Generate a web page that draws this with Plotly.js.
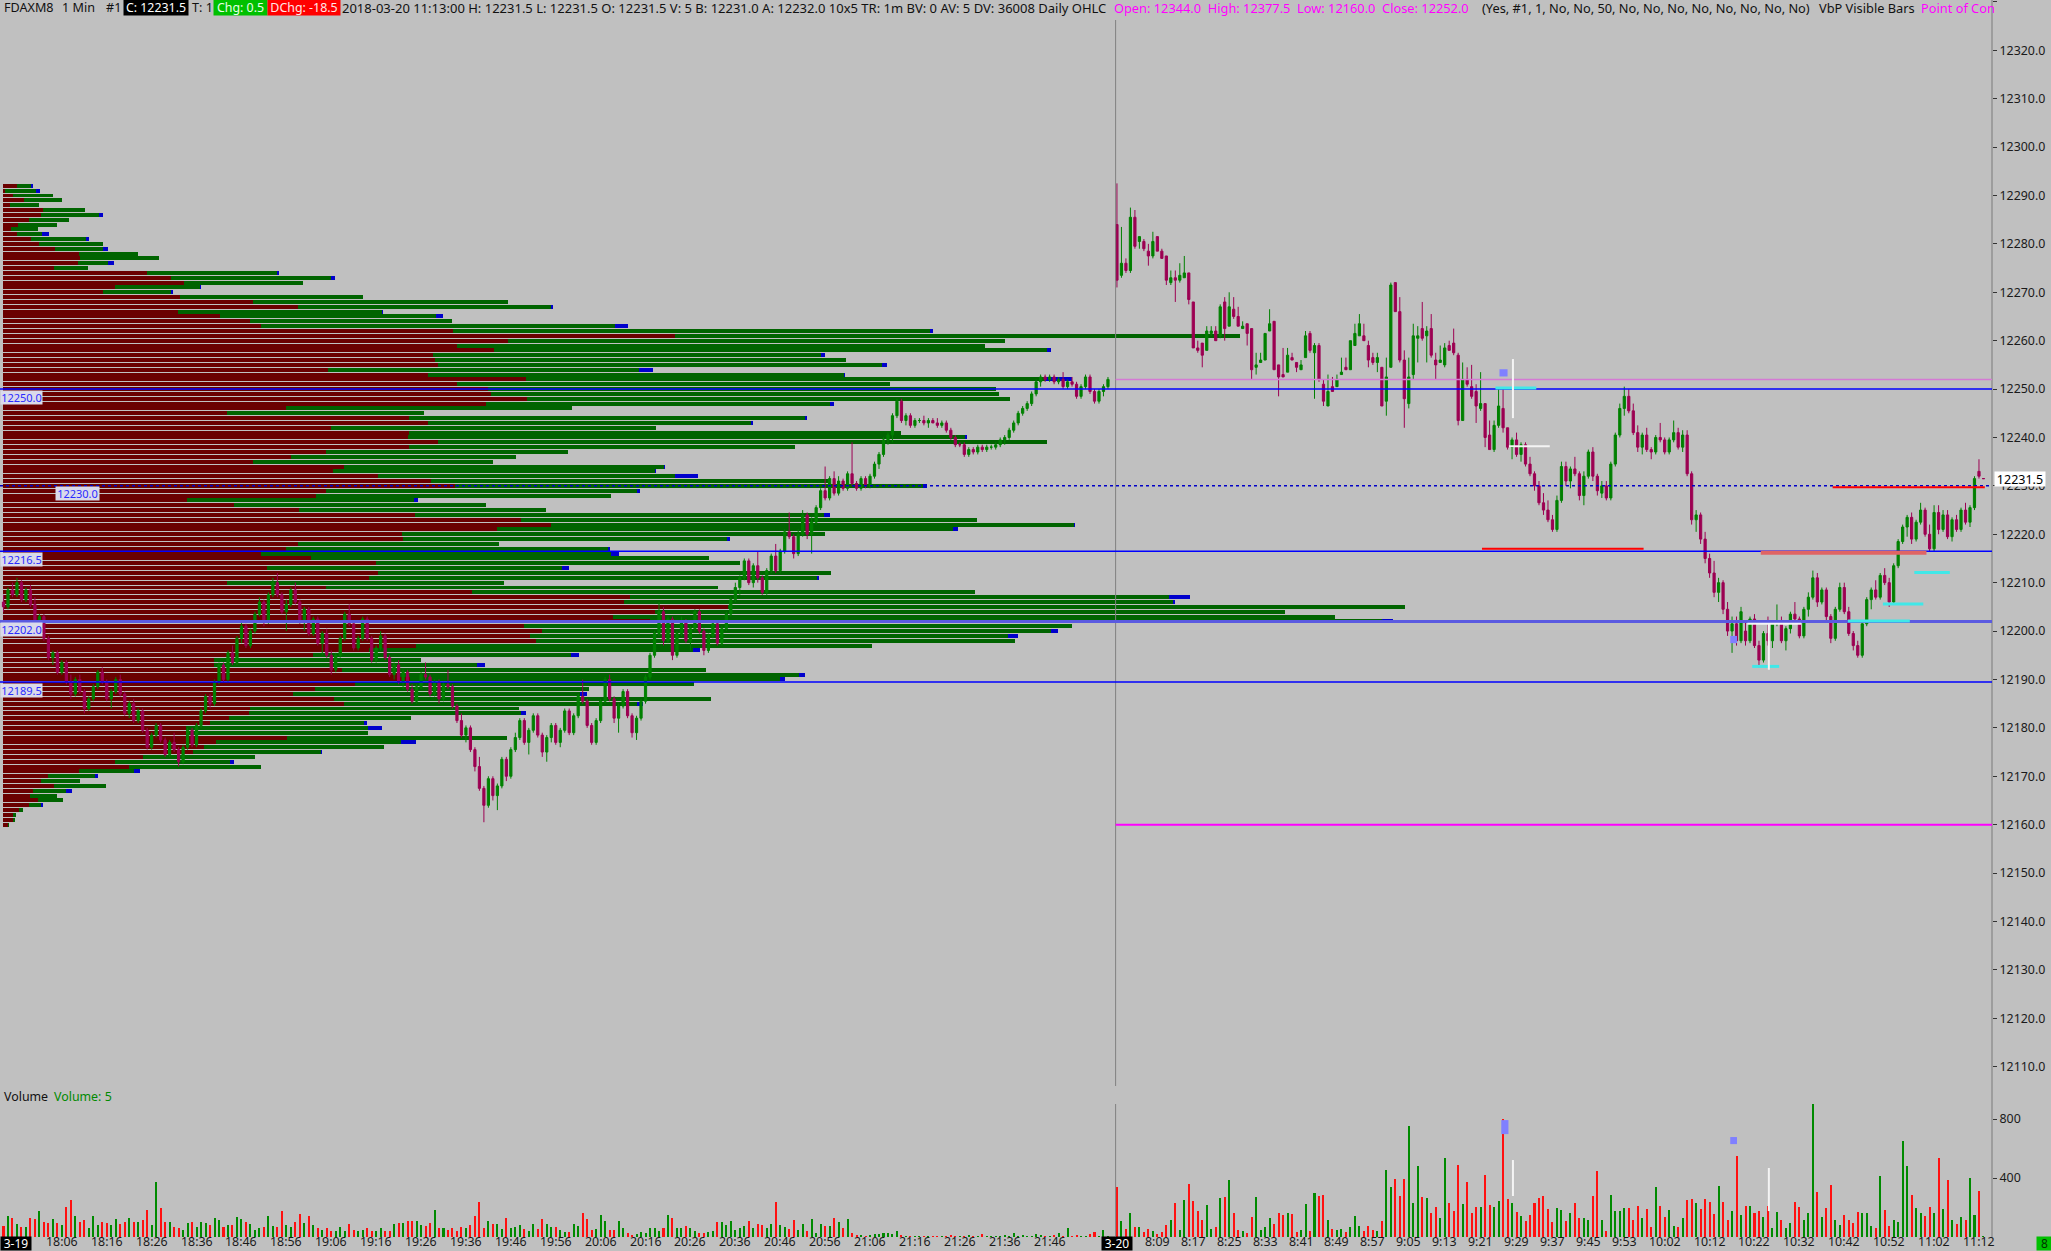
<!DOCTYPE html>
<html><head><meta charset="utf-8">
<script src="https://cdn.plot.ly/plotly-3.0.1.min.js"></script>
<style>html,body{margin:0;padding:0;background:#c0c0c0;overflow:hidden}</style>
</head><body><div id="chart" style="width:2051px;height:1251px"></div>
<script>
// ---------------- DATA ----------------
const eveStart = '17:53';
const dayStart = '8:00';
// evening session 2018-03-19, one bar per minute [open, high, low, close]
const eveBars = [
[12206,12207.5,12204,12205],[12205,12209,12204.5,12208.5],[12208.5,12210,12207,12207.5],[12207.5,12211,12207,12210],[12210,12210.5,12206,12206.5],
[12206.5,12209,12206,12208.5],[12208.5,12209.5,12205,12205.5],[12205.5,12207,12201,12201.5],[12201.5,12203.5,12200,12203],[12203,12203.5,12198,12198.5],
[12198.5,12199,12194,12194.5],[12194.5,12196,12193,12195.5],[12195.5,12196,12191,12191.5],[12191.5,12194,12191,12193.5],[12193.5,12194,12189,12189.5],
[12189.5,12191,12186,12187],[12187,12190.5,12186.5,12190],[12190,12191,12187,12187.5],[12187.5,12188,12183,12184],[12184,12186.5,12183.5,12186],
[12186,12189,12185.5,12188.5],[12188.5,12192,12188,12191.5],[12191.5,12192.5,12189,12189.5],[12189.5,12190,12185.5,12186],[12186,12188,12184,12187.5],
[12187.5,12190.5,12187,12190],[12190,12191,12186.5,12187],[12187,12187.5,12182.5,12183],[12183,12185.5,12182,12185],[12185,12186,12181,12181.5],
[12181.5,12184,12181,12183.5],[12183.5,12184,12179,12179.5],[12179.5,12180,12175.5,12176],[12176,12179,12175.5,12178.5],[12178.5,12181,12178,12180.5],
[12180.5,12181,12177,12177.5],[12177.5,12178,12174,12174.5],[12174.5,12177.5,12174,12177],[12177,12179,12175,12175.5],[12175.5,12176,12172,12173],
[12173,12176.5,12172.5,12176],[12176,12180,12175.5,12179.5],[12179.5,12180,12176,12176.5],[12176.5,12181,12176,12180.5],[12180.5,12184,12180,12183.5],
[12183.5,12187,12183,12186.5],[12186.5,12187,12184,12185],[12185,12190,12184.5,12189.5],[12189.5,12193.5,12189,12193],[12193,12193.5,12189.5,12190],
[12190,12196,12189.5,12195.5],[12195.5,12197,12193,12193.5],[12193.5,12199,12193,12198.5],[12198.5,12202,12197.5,12201],[12201,12201.5,12196.5,12197],
[12197,12200.5,12196.5,12200],[12200,12204,12199.5,12203.5],[12203.5,12207,12203,12206],[12206,12206.5,12201,12202],[12202,12208,12201.5,12207.5],
[12207.5,12211,12207,12210],[12210,12212,12207,12207.5],[12207.5,12208,12203.5,12204],[12204,12206.5,12200,12205.5],[12205.5,12209,12205,12208.5],
[12208.5,12210,12205.5,12206],[12206,12206.5,12201.5,12202],[12202,12205,12200,12204.5],[12204.5,12205,12199,12199.5],[12199.5,12203,12199,12202.5],
[12202.5,12203,12197,12197.5],[12197.5,12200,12195,12199.5],[12199.5,12200.5,12194.5,12195],[12195,12196,12191,12192],[12192,12195.5,12191.5,12195],
[12195,12199,12194.5,12198.5],[12198.5,12204,12198,12203.5],[12203.5,12205.5,12201,12201.5],[12201.5,12202,12196,12196.5],[12196.5,12199,12196,12198.5],
[12198.5,12203,12198,12202.5],[12202.5,12203,12198,12198.5],[12198.5,12199,12193.5,12194],[12194,12197,12193.5,12196.5],[12196.5,12200,12196,12199],
[12199,12199.5,12194,12194.5],[12194.5,12195,12190.5,12191],[12191,12193.5,12190,12193],[12193,12194,12189,12189.5],[12189.5,12192,12188,12191.5],
[12191.5,12192,12187.5,12188],[12188,12189,12185,12185.5],[12185.5,12189,12185,12188.5],[12188.5,12191.5,12188,12191],[12191,12193.5,12190,12190.5],
[12190.5,12191,12186.5,12187],[12187,12190,12186.5,12189.5],[12189.5,12190,12185,12186],[12186,12189.5,12185.5,12189],[12189,12192,12188,12188.5],
[12188.5,12189,12184,12184.5],[12184.5,12185,12181,12181.5],[12181.5,12183,12178,12178.5],[12178.5,12180.5,12177,12180],[12180,12180.5,12175,12175.5],
[12175.5,12176,12171,12172],[12172,12174,12167,12167.5],[12167.5,12168,12160.5,12164],[12164,12170,12163.5,12169.5],[12169.5,12170,12165,12166],
[12166,12168.5,12163,12168],[12168,12174,12167.5,12173.5],[12173.5,12174,12169,12170],[12170,12176,12169.5,12175.5],[12175.5,12179,12175,12178],
[12178,12182,12177.5,12181.5],[12181.5,12182,12176.5,12177],[12177,12180,12174.5,12179.5],[12179.5,12183,12179,12182.5],[12182.5,12183,12178,12178.5],
[12178.5,12179,12174,12175],[12175,12178.5,12173,12178],[12178,12181,12177,12180.5],[12180.5,12181,12176.5,12177],[12177,12180,12176,12179.5],
[12179.5,12184,12179,12183.5],[12183.5,12184,12178.5,12179],[12179,12183,12178.5,12182.5],[12182.5,12187,12182,12186.5],[12186.5,12190,12185,12185.5],
[12185.5,12186,12180,12180.5],[12180.5,12181,12176.5,12177],[12177,12182,12176.5,12181.5],[12181.5,12186,12181,12185.5],[12185.5,12190.5,12185,12190],
[12190,12191,12185.5,12186],[12186,12186.5,12181,12182],[12182,12185,12179,12184.5],[12184.5,12188,12184,12187.5],[12187.5,12188,12182,12182.5],
[12182.5,12183,12178,12179],[12179,12182.5,12177.5,12182],[12182,12186,12181.5,12185.5],[12185.5,12191,12185,12190.5],[12190.5,12195.5,12190,12195],
[12195,12200,12194.5,12199.5],[12199.5,12206,12199,12204],[12204,12205,12197,12198],[12198,12203,12197.5,12202.5],[12202.5,12203,12194,12195],
[12195,12200,12194.5,12199.5],[12199.5,12203,12199,12202],[12202,12202.5,12197.5,12198],[12198,12201,12196,12200.5],[12200.5,12204.5,12200,12204],
[12204,12204.5,12199.5,12200],[12200,12200.5,12195,12196],[12196,12199.5,12195.5,12199],[12199,12202,12198.5,12201.5],[12201.5,12202,12197,12197.5],
[12197.5,12201,12197,12200.5],[12200.5,12204,12200,12203.5],[12203.5,12207,12203,12206.5],[12206.5,12210,12206,12209],[12209,12211.5,12207.5,12211],
[12211,12215,12210.5,12214.5],[12214.5,12215,12209.5,12210],[12210,12214,12209,12213.5],[12213.5,12216.5,12210,12211],[12211,12211.5,12207.5,12208],
[12208,12213,12207.5,12212.5],[12212.5,12216,12212,12215.5],[12215.5,12218,12212,12212.5],[12212.5,12217,12212,12216.5],[12216.5,12221,12216,12220.5],
[12220.5,12224.5,12219,12219.5],[12219.5,12220,12215,12216],[12216,12221,12215.5,12220],[12220,12225,12219.5,12224],[12224,12224.5,12219,12220],
[12220,12223.5,12216,12222.5],[12222.5,12226,12222,12225.5],[12225.5,12229.5,12225,12229],[12229,12234,12227,12227.5],[12227.5,12232,12227,12231.5],
[12231.5,12233,12228,12228.5],[12228.5,12232,12228,12231],[12231,12231.5,12229,12229.5],[12229.5,12233,12229,12232.5],[12232.5,12239,12230,12230.5],
[12230.5,12231,12229,12229.5],[12229.5,12232,12229,12231.5],[12231.5,12232,12229.5,12230],[12230,12232.5,12229.5,12232],[12232,12235,12231.5,12234.5],
[12234.5,12237,12233.5,12236.5],[12236.5,12240,12236,12239.5],[12239.5,12241,12238.5,12240.5],[12240.5,12245,12239,12244.5],[12244.5,12248,12244,12247.5],
[12247.5,12248,12243,12243.5],[12243.5,12245,12242.5,12244.5],[12244.5,12245,12242,12242.5],[12242.5,12244,12242,12243.5],[12243.5,12244,12243,12243.5],
[12243.5,12244.5,12242.5,12243],[12243,12244,12242,12243.5],[12243.5,12244,12243,12243],[12243,12244,12242,12242.5],[12242.5,12243.5,12242,12243],
[12243,12243.5,12241,12241.5],[12241.5,12242,12239.5,12240],[12240,12240.5,12238,12238.5],[12238.5,12239,12238,12238.5],[12238.5,12239,12236,12236.5],
[12236.5,12238,12236,12237.5],[12237.5,12238,12236.5,12237],[12237,12238.5,12236.5,12238],[12238,12238.5,12237,12237.5],[12237.5,12238.5,12237,12238],
[12238,12238.5,12237.5,12238],[12238,12239,12237.5,12238.5],[12238.5,12240,12238,12239.5],[12239.5,12240.5,12238.5,12240],[12240,12242,12239.5,12241.5],
[12241.5,12243.5,12241,12243],[12243,12245.5,12242.5,12245],[12245,12246.5,12244.5,12246],[12246,12247.5,12245.5,12247],[12247,12249.5,12246.5,12249],
[12249,12252,12248.5,12251.5],[12251.5,12253,12250.5,12252.5],[12252.5,12253,12251.5,12252],[12252,12253,12251.5,12252.5],[12252.5,12253,12251,12251.5],
[12251.5,12252.5,12251,12252],[12252,12253.5,12250,12250.5],[12250.5,12252,12250,12251.5],[12251.5,12252.5,12250.5,12251],[12251,12251.5,12248,12248.5],
[12248.5,12251,12248,12250.5],[12250.5,12253,12250,12252.5],[12252.5,12253,12249,12249.5],[12249.5,12250,12247,12247.5],[12247.5,12250,12247,12249.5],
[12249.5,12251,12248.5,12250.5],[12250.5,12252.5,12250,12252]
];
// day session 2018-03-20 [open, high, low, close]
const dayBars = [
[12284,12292.5,12271,12272.5],[12273.5,12283.5,12273,12276],[12276,12277,12274,12274.5],[12274.5,12287.5,12274,12285.5],[12285.5,12287,12279,12279.5],
[12280.5,12281.5,12279,12281.5],[12280.5,12281,12278.5,12279],[12278.5,12280,12275.5,12277.5],[12277.5,12282.5,12277,12280.5],[12281.5,12281.5,12278.5,12278.5],
[12278.5,12279,12277,12277],[12277.5,12277.5,12271.5,12272.5],[12272,12274.5,12271.5,12273],[12273,12274.5,12268,12272.5],[12272.5,12276,12272,12273.5],
[12273,12277.5,12273,12274],[12274,12274,12267.5,12268.5],[12268,12268,12258.5,12258.5],[12258.5,12260,12257.5,12258],[12259.5,12259.5,12254.5,12257],
[12258,12263,12258,12262],[12261.5,12263,12261,12262],[12262,12263,12260,12260],[12261,12267.5,12260.5,12267],[12268,12269,12260,12262.5],
[12263,12270,12263,12267],[12266.5,12269,12264.5,12265],[12265,12267,12263,12263],[12262.5,12264,12262.5,12263],[12263.5,12263.5,12259,12261.5],
[12262.5,12262.5,12252,12254],[12254.5,12257.5,12253,12255],[12255.5,12257.5,12255.5,12256],[12256,12261.5,12256,12261.5],[12262,12266.5,12262,12263.5],
[12264,12264,12254,12254],[12255,12255,12248.5,12252.5],[12253,12258.5,12252.5,12252.5],[12253.5,12258.5,12253.5,12257],[12256.5,12257.5,12256,12256],
[12255.5,12255.5,12253.5,12254.5],[12254,12256,12254,12255],[12256.5,12262,12256.5,12261],[12261.5,12262,12257.5,12258],[12257.5,12259.5,12248,12259],
[12259,12259.5,12251.5,12252],[12251,12252,12246.5,12247.5],[12246.5,12253,12246.5,12249.5],[12250.5,12252.5,12249.5,12249.5],[12250.5,12253,12250.5,12252],
[12253,12256.5,12253,12253.5],[12254.5,12256.5,12254,12254],[12254,12260,12254,12260],[12259,12263.5,12259,12261.5],[12261,12265.5,12261,12263.5],
[12261,12263.5,12260,12260],[12259,12260,12254.5,12256],[12256.5,12257.5,12255,12255.5],[12255.5,12257.5,12253.5,12256.5],[12254.5,12254.5,12246.5,12246.5],
[12247.5,12256.5,12244.5,12252.5],[12254.5,12272,12254.5,12271.5],[12272,12272,12266,12266],[12266,12269,12255.5,12256],[12256,12258,12242,12248],
[12247,12256.5,12246,12252.5],[12253,12263.5,12252,12261],[12260.5,12263,12255.5,12261],[12262.5,12268,12260,12260.5],[12261,12263,12255.5,12262],
[12262.5,12265.5,12256.5,12257],[12256,12257.5,12252,12255],[12255.5,12259,12255.5,12256],[12255,12259.5,12254.5,12258.5],[12259,12260,12258,12258],
[12259.5,12262.5,12257,12257.5],[12257,12257.5,12242.5,12243.5],[12243.5,12255.5,12243.5,12252],[12252,12254.5,12250.5,12251],[12250.5,12255,12248,12248.5],
[12249.5,12251,12243,12246.5],[12246,12253.5,12245.5,12247],[12247,12247,12238,12240],[12240.5,12243.5,12237.5,12237.5],[12237.5,12243.5,12237,12242.5],
[12242.5,12250,12242,12246.5],[12246,12250,12241,12242],[12242,12242,12237.5,12238],[12238,12240,12235.5,12239.5],[12239.5,12241,12236,12236.5],
[12236.5,12239,12235,12238.5],[12238.5,12239,12234,12234.5],[12234.5,12236,12232,12232.5],[12232.5,12233,12229,12230],[12230,12231,12226,12226.5],
[12226.5,12228.5,12224,12225],[12225,12227,12222.5,12223],[12223,12224,12220.5,12221],[12221,12228,12220.5,12227],[12227,12235,12226.5,12234],
[12234,12235,12230,12231],[12231,12234,12229.5,12233.5],[12233.5,12236,12232,12232.5],[12232.5,12233,12227,12228],[12228,12233,12226,12232],
[12232,12237.5,12231.5,12237],[12237,12238,12231,12232],[12232,12232.5,12228,12229],[12228.5,12231,12227.5,12230],[12230,12231,12227,12227.5],
[12227.5,12235,12227,12234.5],[12234.5,12241,12234,12240.5],[12240.5,12247,12240,12246],[12246,12250.5,12244.5,12248.5],[12248.5,12250,12245,12245.5],
[12245.5,12247,12240.5,12241],[12241,12242.5,12237,12238],[12238,12241,12236.5,12240.5],[12240.5,12242,12237,12237.5],[12237.5,12238,12235.5,12237],
[12237,12240.5,12236.5,12240],[12240,12243,12239,12239.5],[12239.5,12240,12236.5,12237],[12237,12240,12236.5,12239.5],[12239.5,12243.5,12239,12241],
[12241,12242,12237.5,12238],[12238,12241.5,12237,12240.5],[12240.5,12241.5,12232,12232.5],[12232.5,12233,12222,12223],[12223,12225,12220.5,12224],
[12224,12224.5,12218,12219],[12219,12220.5,12214,12215],[12215,12216,12211,12212],[12212,12214.5,12207,12208],[12208,12211,12206,12210],
[12210,12210.5,12203.5,12204.5],[12204.5,12206,12199,12200],[12200,12203,12195.5,12201.5],[12201.5,12203,12197,12198],[12198,12205,12197.5,12204],
[12200,12202,12197,12198],[12198,12203,12197.5,12202.5],[12202.5,12203.5,12196.5,12197],[12197,12198,12192.5,12194],[12194,12200,12193.5,12199.5],
[12199.5,12203,12197,12198],[12198,12202,12196.5,12201.5],[12201.5,12205.5,12201,12202],[12202,12203,12197.5,12198],[12198,12201,12196,12200.5],
[12200.5,12204,12199.5,12203.5],[12203.5,12206,12202,12202.5],[12202.5,12203,12198.5,12199],[12199,12205,12198.5,12204.5],[12204.5,12208,12203,12207],
[12207,12212.5,12206.5,12211],[12211,12212,12205,12206],[12206,12209,12205.5,12208.5],[12208.5,12209,12202,12203],[12203,12203.5,12197.5,12198.5],
[12198.5,12205,12198,12204.5],[12204.5,12210,12204,12209],[12209,12210,12203.5,12204],[12204,12205,12199,12199.5],[12199.5,12200,12196,12197],
[12197,12198,12194.5,12195],[12195,12202,12194.5,12201.5],[12201.5,12207,12201,12206.5],[12206.5,12209,12204.5,12208.5],[12208.5,12210.5,12206.5,12207],
[12207,12212,12206.5,12211.5],[12211.5,12213,12209.5,12210],[12210,12211,12205,12206],[12206,12214,12205.5,12213.5],[12213.5,12219,12213,12218.5],
[12218.5,12222,12218,12221.5],[12221.5,12224,12219.5,12223.5],[12223.5,12224.5,12218,12219],[12219,12223,12218.5,12222.5],[12222.5,12226.5,12222,12225],
[12225,12225.5,12219.5,12220],[12220,12222,12216.5,12217],[12217,12226,12216.5,12224.5],[12224.5,12226,12220,12221],[12221,12225,12220.5,12224],
[12224,12225,12219,12219.5],[12219.5,12223.5,12218.5,12223],[12223,12224,12220.5,12221],[12221,12225.5,12220.5,12225],[12225,12226.5,12222,12222.5],
[12222.5,12226,12221.5,12225.5],[12225.5,12232,12225,12231.5],[12233,12235.5,12231.5,12232],[12231.5,12231.5,12231.5,12231.5]
];
const eveVol = [
75,140,130,85,70,65,130,120,175,100, 95,120,95,80,205,250,140,105,115,60, 140,80,105,95,80,120,90,100,130,100,
100,115,185,80,375,200,100,100,70,60, 45,95,100,65,100,95,80,130,115,70, 80,80,135,120,105,90,45,60,70,140,
75,70,175,80,70,100,155,95,140,80, 60,45,60,40,40,65,40,90,45,40, 50,60,40,40,60,40,40,90,95,95,
110,110,110,80,75,95,185,60,60,45, 60,40,65,60,80,140,235,60,110,90, 90,55,130,60,70,80,55,40,90,55,
120,85,70,70,50,35,35,90,75,160, 120,45,55,150,110,50,50,110,60,30, 15,20,35,30,60,60,40,60,150,130,
60,60,75,60,40,25,25,35,40,105, 100,80,110,50,60,75,110,60,90,80, 60,85,240,80,65,55,115,50,85,40,
120,30,90,75,75,130,100,60,120,25, 15,15,10,15,20,20,25,25,20,40, 15,10,5,5,5,10,5,5,10,5,
10,15,5,10,5,15,5,10,20,5, 5,5,10,15,5,25,10,15,5,10, 20,15,5,10,15,25,5,60,10,15, 10,5,20,35,10,45,5
];
const dayVol = [
342,110,52,160,68,68,36,55,41,23, 34,82,114,228,46,251,361,247,174,116, 217,57,68,263,274,384,160,46,41,30,
137,274,46,68,128,87,160,146,160,155, 34,46,224,41,301,281,285,114,52,46, 57,36,68,144,75,41,73,46,41,110,
457,342,390,279,390,753,228,482,269,265, 160,205,132,534,233,174,486,224,372,164, 201,201,422,217,201,247,799,258,228,167,
144,110,151,233,265,281,189,105,196,185, 110,160,228,132,132,114,281,445,114,41, 288,178,178,194,194,114,210,128,189,68,
342,212,137,183,75,68,132,251,260,228, 189,258,235,155,347,235,114,178,550,151, 210,210,160,178,137,212,64,167,114,64,
98,235,205,114,160,904,308,137,194,354, 114,80,148,114,98,167,164,160,73,64, 411,183,75,114,103,651,479,285,194,160,
144,205,160,539,189,388,114,91,137,114, 400,148,315,5
];
// volume-by-price (visible bars): price rows, bid part, ask part, highlight part
const vpPrice = [
12292,12291,12290,12289,12288,12287,12286,12285,12284,12283,12282,12281,12280,12279,12278,12277,12276,12275,12274,12273,
12272,12271,12270,12269,12268,12267,12266,12265,12264,12263,12262,12261,12260,12259,12258,12257,12256,12255,12254,12253,
12252,12251,12250,12249,12248,12247,12246,12245,12244,12243,12242,12241,12240,12239,12238,12237,12236,12235,12234,12233,
12232,12231,12230,12229,12228,12227,12226,12225,12224,12223,12222,12221,12220,12219,12218,12217,12216,12215,12214,12213,
12212,12211,12210,12209,12208,12207,12206,12205,12204,12203,12202,12201,12200,12199,12198,12197,12196,12195,12194,12193,
12192,12191,12190,12189,12188,12187,12186,12185,12184,12183,12182,12181,12180,12179,12178,12177,12176,12175,12174,12173,
12172,12171,12170,12169,12168,12167,12166,12165,12164,12163,12162,12161,12160
];
const vpBid = [
14,2,10,21,7,40,38,26,15,8, 14,28,36,52,76,77,75,51,144,168, 181,112,100,177,250,295,175,217,247,258,
450,672,505,454,491,430,432,435,325,425, 523,454,485,488,524,483,283,224,406,425, 328,406,405,435,406,323,288,250,341,330,
375,428,452,323,313,184,231,296,412,518, 548,494,399,400,295,283,258,308,373,264, 375,366,224,323,469,627,621,725,652,610,
647,521,539,527,533,413,366,310,211,211, 339,396,407,352,312,290,331,341,247,246, 226,207,183,183,284,213,201,190,140,112,
126,76,45,38,51,30,27,35,26,16, 10,10,5
];
const vpAsk = [
14,31,40,38,29,42,58,40,39,27, 25,55,64,48,59,79,30,34,130,160, 119,85,68,183,255,253,204,216,202,354,
477,565,497,528,553,388,411,444,311,416, 519,433,508,508,483,344,286,197,396,323, 325,492,557,609,386,242,225,240,320,322,
297,399,468,311,295,227,252,247,409,456, 523,456,423,324,201,322,350,398,364,295, 453,448,277,392,503,539,549,677,630,722,
732,548,509,478,479,456,324,258,207,263, 364,400,370,339,274,287,377,293,269,272, 182,154,182,182,220,185,180,128,112,115,
132,55,47,39,52,33,27,25,12,4, 3,2,1
];
const vpMark = [
2,4,0,0,0,0,4,0,0,0, 7,3,0,5,0,0,6,0,2,4, 0,1,2,0,0,2,1,7,0,13,
3,0,0,0,4,4,0,5,14,1, 27,0,0,0,0,4,0,0,2,2, 0,0,2,0,0,0,0,0,1,1,
23,0,4,3,0,4,0,0,6,0, 1,5,0,3,0,2,8,0,0,7, 0,2,0,0,0,21,2,0,0,0,
11,0,7,10,0,0,7,8,0,8, 0,6,5,0,0,7,0,6,0,5, 0,3,14,0,0,15,0,1,0,4,
0,6,3,0,0,6,0,0,2,0, 0,0,0
];
// reference levels
const levelPrices = [12250.0, 12216.5, 12202.0, 12189.5];
const pocPrice = 12230.0;
const priorClose = 12252.0;
const priorLow = 12160.0;
const lastPrice = 12231.5;
const eveLabels = ['18:06','18:16','18:26','18:36','18:46','18:56','19:06','19:16','19:26','19:36','19:46','19:56','20:06','20:16','20:26','20:36','20:46','20:56','21:06','21:16','21:26','21:36','21:46'];
const dayLabels = ['8:09','8:17','8:25','8:33','8:41','8:49','8:57','9:05','9:13','9:21','9:29','9:37','9:45','9:53','10:02','10:12','10:22','10:32','10:42','10:52','11:02','11:12'];

// ---------------- LAYOUT HELPERS ----------------
const PW = 1992, PH = 1237;           // plot area in pixels
const DAY_OFFSET = 248;              // index of first day-session bar
function px(x){ return x / PW; }
function py(y){ return (PH - y) / PH; }
function mins(t){ const p = t.split(':'); return (+p[0]) * 60 + (+p[1]); }
function eveX(t){ return mins(t) - mins(eveStart); }
function dayX(t){ return DAY_OFFSET + mins(t) - mins(dayStart); }

const xs = [], O = [], Hh = [], L = [], C = [], V = [];
eveBars.forEach((b, k) => { xs.push(k); O.push(b[0]); Hh.push(b[1]); L.push(b[2]); C.push(b[3]); V.push(eveVol[k]); });
dayBars.forEach((b, k) => { xs.push(DAY_OFFSET + k); O.push(b[0]); Hh.push(b[1]); L.push(b[2]); C.push(b[3]); V.push(dayVol[k]); });
const volColors = C.map((c, k) => c >= O[k] ? '#008a00' : '#ff1010');

const FONT = 'Noto Sans, Open Sans, sans-serif';
const traces = [
  {type:'bar', orientation:'h', xaxis:'x', yaxis:'y', y:vpPrice, x:vpBid, width:0.82,
   marker:{color:'#6a0000', line:{width:0}}, hoverinfo:'skip', showlegend:false},
  {type:'bar', orientation:'h', xaxis:'x', yaxis:'y', y:vpPrice, x:vpAsk, width:0.82,
   marker:{color:'#006400', line:{width:0}}, hoverinfo:'skip', showlegend:false},
  {type:'bar', orientation:'h', xaxis:'x', yaxis:'y', y:vpPrice, x:vpMark, width:0.82,
   marker:{color:'#0000cc', line:{width:0}}, hoverinfo:'skip', showlegend:false},
  {type:'candlestick', xaxis:'x2', yaxis:'y', x:xs, open:O, high:Hh, low:L, close:C,
   increasing:{line:{color:'#008000', width:1}, fillcolor:'#008000'},
   decreasing:{line:{color:'#9c0052', width:1}, fillcolor:'#9c0052'},
   whiskerwidth:0, hoverinfo:'skip', showlegend:false},
  {type:'bar', xaxis:'x2', yaxis:'y2', x:xs, y:V, width:0.45,
   marker:{color:volColors, line:{width:0}}, hoverinfo:'skip', showlegend:false}
];

const shapes = [];
const sepX = DAY_OFFSET - 0.3;
const xEnd = 442.9;
// separator and axis line
shapes.push({type:'line', xref:'x2', yref:'paper', x0:sepX, x1:sepX, y0:py(1086), y1:py(20), line:{color:'#808080', width:1}});
shapes.push({type:'line', xref:'x2', yref:'paper', x0:sepX, x1:sepX, y0:py(1236), y1:py(1104), line:{color:'#808080', width:1}});
shapes.push({type:'line', xref:'paper', yref:'paper', x0:1, x1:1, y0:0, y1:1, line:{color:'#7a7a7a', width:1}});
// levels
const levelStyles = [{c:'#0000ff', w:1.5}, {c:'#0000ff', w:1.5}, {c:'#5a5ae0', w:3}, {c:'#0000ff', w:1.5}];
levelPrices.forEach((p, k) => shapes.push({type:'line', xref:'paper', yref:'y', x0:0, x1:1, y0:p, y1:p, line:{color:levelStyles[k].c, width:levelStyles[k].w}}));
shapes.push({type:'line', xref:'paper', yref:'y', x0:0, x1:1, y0:pocPrice, y1:pocPrice, line:{color:'#0000c8', width:1.5, dash:'dot'}});
shapes.push({type:'line', xref:'x2', yref:'y', x0:sepX, x1:xEnd, y0:priorClose, y1:priorClose, line:{color:'#d47ad4', width:1.5}});
shapes.push({type:'line', xref:'x2', yref:'y', x0:sepX, x1:xEnd, y0:priorLow, y1:priorLow, line:{color:'#ff00ff', width:2}});
// study marks on day session (bar offsets, price)
const redMarks = [[81.3,117.3,12217.0,'#ff0000',2],[143.4,180.3,12216.2,'#e06464',4],[159.4,193.3,12229.7,'#ff0000',2]];
redMarks.forEach(m => shapes.push({type:'line', xref:'x2', yref:'y', x0:DAY_OFFSET+m[0], x1:DAY_OFFSET+m[1], y0:m[2], y1:m[2], line:{color:m[3], width:m[4]}}));
const cyanMarks = [[84.3,93.4,12250.2],[177.6,185.5,12212.1],[170.6,179.6,12205.6],[162.8,176.6,12202.1],[141.5,147.5,12192.7]];
cyanMarks.forEach(m => shapes.push({type:'line', xref:'x2', yref:'y', x0:DAY_OFFSET+m[0], x1:DAY_OFFSET+m[1], y0:m[2], y1:m[2], line:{color:'#40e8e8', width:3}}));
const whiteV = [[88.2,12244,12256.2],[145.2,12192,12201.6]];
whiteV.forEach(m => shapes.push({type:'line', xref:'x2', yref:'y', x0:DAY_OFFSET+m[0], x1:DAY_OFFSET+m[0], y0:m[1], y1:m[2], line:{color:'#f4f4f4', width:2}}));
const whiteH = [[87.3,96.4,12238.2],[140.4,152.4,12201.5]];
whiteH.forEach(m => shapes.push({type:'line', xref:'x2', yref:'y', x0:DAY_OFFSET+m[0], x1:DAY_OFFSET+m[1], y0:m[2], y1:m[2], line:{color:'#f4f4f4', width:2}}));
const boxMarks = [[85.2,87.0,12252.6,12254.1],[136.6,138.1,12197.5,12199.0]];
boxMarks.forEach(m => shapes.push({type:'rect', xref:'x2', yref:'y', x0:DAY_OFFSET+m[0], x1:DAY_OFFSET+m[1], y0:m[2], y1:m[3], fillcolor:'#8080ff', line:{width:0}}));
const volBoxMarks = [[85.6,87.2,698,793],[136.6,138.1,630,678]];
volBoxMarks.forEach(m => shapes.push({type:'rect', xref:'x2', yref:'y2', x0:DAY_OFFSET+m[0], x1:DAY_OFFSET+m[1], y0:m[2], y1:m[3], fillcolor:'#8080ff', line:{width:0}}));
const volWhite = [[88.2,278,522],[145.2,176,468]];
volWhite.forEach(m => shapes.push({type:'line', xref:'x2', yref:'y2', x0:DAY_OFFSET+m[0], x1:DAY_OFFSET+m[0], y0:m[1], y1:m[2], line:{color:'#f4f4f4', width:2}}));

// ---------------- TEXT ----------------
const ann = [];
function txt(x, y, text, color, opts){
  const a = Object.assign({xref:'paper', yref:'paper', x:px(x), y:py(y), xanchor:'left', yanchor:'middle',
    text:text, showarrow:false, font:{family:FONT, size:12, color:color}, borderpad:0}, opts || {});
  ann.push(a); return a;
}
function f(size, color){ return {family:FONT, size:size, color:color}; }
// header
txt(3, 8, 'FDAXM8', '#111', {font:f(12.6,'#111')});
txt(61, 8, '1 Min', '#111', {font:f(12.6,'#111')});
txt(105, 8, '#1', '#111', {font:f(12.6,'#111')});
txt(123, 8, 'C: 12231.5', '#ffffff', {bgcolor:'#000000', width:64, height:15, font:f(12.4,'#ffffff')});
txt(191, 8, 'T: 1', '#111', {font:f(12.6,'#111')});
txt(213, 8, 'Chg: 0.5', '#e8ffe8', {bgcolor:'#00c000', width:53, height:15, font:f(12.4,'#e8ffe8')});
txt(267, 8, 'DChg: -18.5', '#ffe8e8', {bgcolor:'#ff0000', width:72, height:15, font:f(12.4,'#ffe8e8')});
txt(341, 8, '2018-03-20 11:13:00 H: 12231.5 L: 12231.5 O: 12231.5 V: 5 B: 12231.0 A: 12232.0 10x5 TR: 1m BV: 0 AV: 5 DV: 36008 Daily OHLC', '#111', {font:f(13,'#111')});
txt(1113, 8, 'Open: 12344.0&nbsp;&nbsp;High: 12377.5&nbsp;&nbsp;Low: 12160.0&nbsp;&nbsp;Close: 12252.0', '#ff00ff', {font:f(12.8,'#ff00ff')});
txt(1481, 8, '(Yes, #1, 1, No, No, 50, No, No, No, No, No, No, No, No)', '#111', {font:f(12.8,'#111')});
txt(1818, 8, 'VbP Visible Bars', '#111', {font:f(12.8,'#111')});
txt(1920, 8, 'Point of Con', '#ff00ff', {font:f(12.8,'#ff00ff')});
// level labels
const levelLabelBoxes = [[0,397.5],[0,559.5],[0,629.5],[0,690.5]];
levelPrices.forEach((p, k) => txt(levelLabelBoxes[k][0], levelLabelBoxes[k][1], p.toFixed(1), '#2a2aff', {bgcolor:'#dadaea', width:41, height:13, font:f(11,'#2a2aff')}));
txt(55, 493, pocPrice.toFixed(1), '#2a2aff', {bgcolor:'#dadaea', width:43, height:13, font:f(11,'#2a2aff')});
// last price on axis
txt(1994, 479, lastPrice.toFixed(1), '#000', {bgcolor:'#ffffff', width:50, height:14, font:f(12.5,'#000')});
// volume pane title
txt(3, 1096, 'Volume', '#111', {font:f(12.4,'#111')});
txt(53, 1096, 'Volume: ' + dayVol[dayVol.length-1], '#008a00', {font:f(12.4,'#008a00')});
// time labels
const tlab = (x, t) => ({xref:'x2', yref:'paper', x:x, y:py(1251), xanchor:'center', yanchor:'bottom', text:t, showarrow:false, borderpad:0, font:f(12.4,'#1a1a1a')});
eveLabels.forEach(t => ann.push(tlab(eveX(t), t)));
dayLabels.forEach(t => ann.push(tlab(dayX(t), t)));
ann.push({xref:'paper', yref:'paper', x:0, y:py(1251), xanchor:'left', yanchor:'bottom', text:'3-19', showarrow:false, bgcolor:'#000', width:30, height:13, borderpad:0, font:f(12,'#fff')});
ann.push({xref:'x2', yref:'paper', x:dayX(dayStart), y:py(1251), xanchor:'center', yanchor:'bottom', text:'3-20', showarrow:false, bgcolor:'#000', width:30, height:13, borderpad:0, font:f(12,'#fff')});
ann.push({xref:'paper', yref:'paper', x:px(2036), y:py(1251), xanchor:'left', yanchor:'bottom', text:'8', showarrow:false, bgcolor:'#00c000', width:15, height:13, borderpad:0, font:f(12,'#003300')});

const layout = {
  width:2051, height:1251,
  margin:{l:0, r:59, t:0, b:14, pad:0},
  paper_bgcolor:'#c0c0c0', plot_bgcolor:'#c0c0c0',
  barmode:'stack', bargap:0, showlegend:false, hovermode:false, dragmode:false,
  xaxis:{domain:[0,1], range:[-3,1989], visible:false, anchor:'y', fixedrange:true},
  xaxis2:{overlaying:'x', range:[-0.78, xEnd], visible:false, anchor:'y2', fixedrange:true, rangeslider:{visible:false}},
  yaxis:{domain:[0.1221,1], range:[12106.01,12330.39], side:'right', anchor:'x', tick0:12110, dtick:10, tickformat:'.1f',
         ticks:'outside', ticklen:4, tickcolor:'#333', tickfont:f(12.4,'#1a1a1a'),
         showgrid:false, zeroline:false, showline:false, fixedrange:true},
  yaxis2:{domain:[0,0.118], range:[0,990], side:'right', anchor:'x2', tickvals:[400,800], ticktext:['400','800'],
          ticks:'outside', ticklen:4, tickcolor:'#333', tickfont:f(12.4,'#1a1a1a'),
          showgrid:false, zeroline:false, showline:false, fixedrange:true},
  shapes:shapes, annotations:ann
};
Plotly.newPlot('chart', traces, layout, {displayModeBar:false, staticPlot:true});
</script></body></html>
